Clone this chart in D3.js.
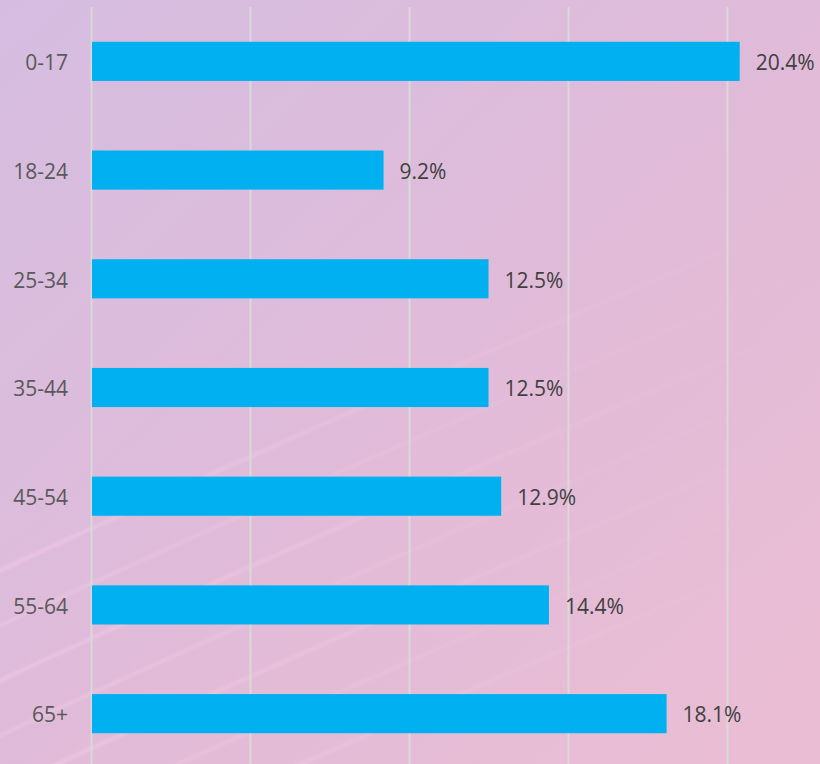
<!DOCTYPE html>
<html>
<head>
<meta charset="utf-8">
<script src="https://cdn.jsdelivr.net/npm/d3@7"></script>
<style>
  html, body { margin: 0; padding: 0; }
  body { width: 820px; height: 764px; overflow: hidden; }
  .cat-label { font-family: "Open Sans", sans-serif; font-size: 21px; fill: #595959; }
  .val-label { font-family: "Open Sans", sans-serif; font-size: 21px; fill: #404040; }
</style>
</head>
<body>
<div id="chart"></div>
<script>
const categories = ['0-17', '18-24', '25-34', '35-44', '45-54', '55-64', '65+'];
const shares = [20.4, 9.2, 12.5, 12.5, 12.9, 14.4, 18.1];
const tickValues = [0, 5, 10, 15, 20, 25];

const width = 820;
const height = 764;

const svg = d3.select('#chart').append('svg').attr('width', width).attr('height', height);

// background gradient, lavender to pink
const defs = svg.append('defs');
const bg = defs.append('linearGradient').attr('id', 'bg')
  .attr('x1', '0%').attr('y1', '0%').attr('x2', '100%').attr('y2', '100%');
bg.append('stop').attr('offset', '0%').attr('stop-color', '#d5bde1');
bg.append('stop').attr('offset', '55%').attr('stop-color', '#e1bbd8');
bg.append('stop').attr('offset', '100%').attr('stop-color', '#ebbdd3');
svg.append('rect').attr('width', width).attr('height', height).attr('fill', 'url(#bg)');

// soft light streaks, strongest at lower left
const fade = defs.append('linearGradient').attr('id', 'fade')
  .attr('gradientUnits', 'userSpaceOnUse')
  .attr('x1', 0).attr('y1', 0).attr('x2', 820).attr('y2', 0);
fade.append('stop').attr('offset', '0%').attr('stop-color', '#ffd6ee').attr('stop-opacity', 0.45);
fade.append('stop').attr('offset', '60%').attr('stop-color', '#ffd6ee').attr('stop-opacity', 0.15);
fade.append('stop').attr('offset', '100%').attr('stop-color', '#ffd6ee').attr('stop-opacity', 0);
defs.append('filter').attr('id', 'soft')
  .append('feGaussianBlur').attr('stdDeviation', 1.5);

const streaks = svg.append('g').attr('fill', 'none').attr('filter', 'url(#soft)');
[540, 595, 650, 705, 760, 815, 870].forEach((y0, i) => {
  streaks.append('path')
    .attr('d', `M-20,${y0 + 40} Q300,${y0 - 110} 820,${y0 - 330}`)
    .attr('stroke', 'url(#fade)')
    .attr('stroke-width', i % 2 ? 2 : 3);
});

const x = d3.scaleLinear().domain([0, 25]).range([91, 886]);
const y = d3.scaleBand().domain(categories).range([7, 768])
  .paddingInner(0.64).paddingOuter(0.32);

// vertical gridlines
svg.append('g')
  .attr('transform', `translate(0,${height})`)
  .call(d3.axisTop(x).tickValues(tickValues).tickSize(height - 7).tickFormat(''))
  .call(g => g.select('.domain').remove())
  .call(g => g.selectAll('.tick line').attr('stroke', '#d9d9d9').attr('stroke-width', 2));

// bars
svg.append('g').selectAll('rect')
  .data(shares)
  .join('rect')
  .attr('x', x(0) + 1)
  .attr('y', (d, i) => y(categories[i]))
  .attr('width', d => x(d) - x(0) - 1)
  .attr('height', y.bandwidth())
  .attr('fill', '#00b0f0');

// category labels
svg.append('g').selectAll('text')
  .data(categories)
  .join('text')
  .attr('class', 'cat-label')
  .attr('x', 68)
  .attr('y', d => y(d) + y.bandwidth() / 2)
  .attr('dy', '0.42em')
  .attr('text-anchor', 'end')
  .text(d => d);

// value labels
svg.append('g').selectAll('text')
  .data(shares)
  .join('text')
  .attr('class', 'val-label')
  .attr('x', d => x(d) + 16)
  .attr('y', (d, i) => y(categories[i]) + y.bandwidth() / 2)
  .attr('dy', '0.42em')
  .text(d => d.toFixed(1) + '%');
</script>
</body>
</html>
